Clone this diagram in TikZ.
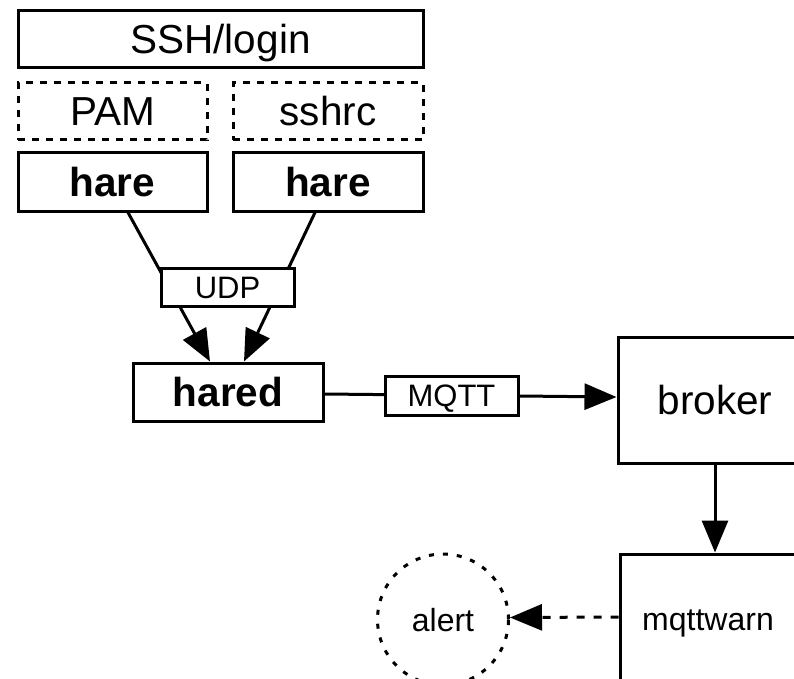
\documentclass[tikz,border=0pt]{standalone}
\usepackage{fontspec}
\setmainfont{Liberation Sans}
\usetikzlibrary{arrows.meta}
\newcommand\fbig{\fontsize{40.5}{45}\selectfont}
\newcommand\fmid{\fontsize{32}{36}\selectfont}
\newcommand\fsmall{\fontsize{31}{35}\selectfont}
\begin{document}
\begin{tikzpicture}[x=1pt,y=-1pt,
  big/.style={font=\fbig, text height=29pt, text depth=0pt},
  mid/.style={font=\fmid, text height=23pt, text depth=0pt},
  small/.style={font=\fsmall, text height=22.3pt, text depth=0pt},
  box/.style={draw, line width=3pt, inner sep=0pt, align=center, big},
  dbox/.style={box, dash pattern=on 7pt off 7pt},
  tag/.style={box, fill=white, small},
  conn/.style={line width=3pt},
  arr/.style={conn, -{Triangle[length=32pt,width=26pt]}},
  darr/.style={arr, dash pattern=on 8pt off 9pt},
  round/.style={draw, circle, line width=3pt, dash pattern=on 5pt off 9pt,
    inner sep=0pt, minimum size=131, mid}
]
\useasboundingbox (0,0) rectangle (794,679);
\clip (0,0) rectangle (794,679);

% login stack
\node[box, minimum width=405, minimum height=57] (ssh) at (220.5,39.5) {SSH/login};
\node[dbox, minimum width=189, minimum height=57] (pam) at (112.5,111.5) {PAM};
\node[dbox, minimum width=190, minimum height=57] (rc) at (328,111.5) {sshrc};
\node[box, minimum width=189, minimum height=58] (h1) at (112.5,182) {\bfseries hare};
\node[box, minimum width=190, minimum height=58] (h2) at (328,182) {\bfseries hare};

% daemon
\node[box, minimum width=190, minimum height=58] (hared) at (228,392) {\bfseries hared};

% broker and consumer
\node[box, minimum width=194, minimum height=126] (broker) at (715,400) {broker};
\node[box, minimum width=176, minimum height=130, mid] (warn) at (708,619) {mqttwarn};
\node[round] (alert) at (443,619.5) {alert};

% hare -> hared over UDP
\draw[arr] ([xshift=15.5pt]h1.south) -- ([xshift=-18pt]hared.north);
\draw[arr] ([xshift=-13pt]h2.south) -- ([xshift=16pt]hared.north);
\node[tag, minimum width=133, minimum height=38] (udp) at (227.5,287) {UDP};

% hared -> broker over MQTT
\draw[arr] ([yshift=-2pt]hared.east) -- ([yshift=3pt]broker.west);
\node[tag, minimum width=133, minimum height=39] (mqtt) at (451.5,395.5) {MQTT};

% broker -> mqttwarn -> alert
\draw[arr] (broker.south) -- (broker.south |- warn.north);
\draw[darr] ([yshift=2pt]warn.west) -- ([yshift=2pt]alert.east);
\end{tikzpicture}
\end{document}
